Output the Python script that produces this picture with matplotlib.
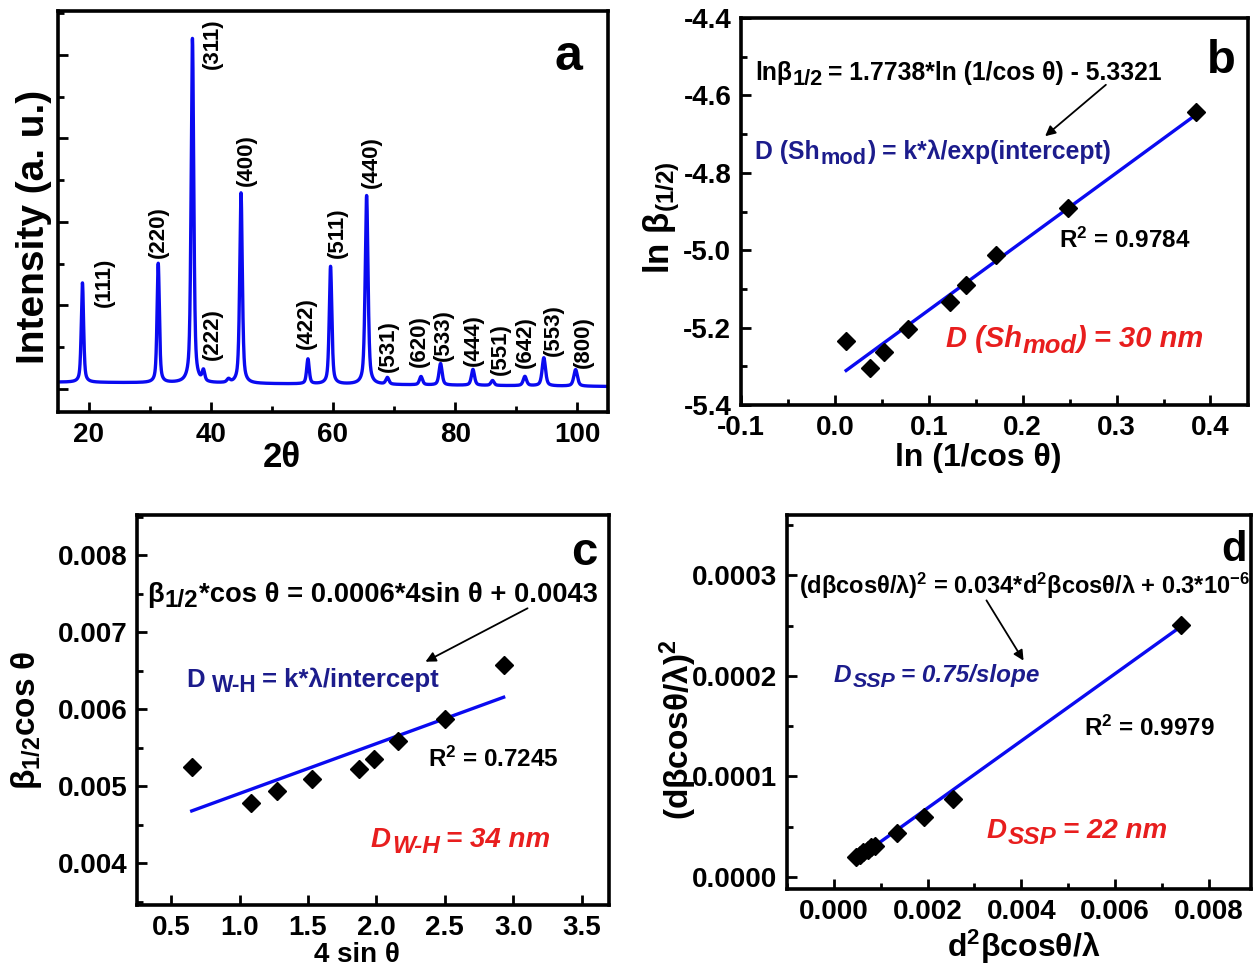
import numpy as np
import matplotlib
matplotlib.use('Agg')
import matplotlib.pyplot as plt
from matplotlib.patches import FancyArrowPatch
from matplotlib.ticker import MultipleLocator, FormatStrFormatter, NullFormatter, FixedLocator

FONT = 'Liberation Sans'
plt.rcParams.update({
    'font.family': [FONT, 'DejaVu Sans'],
    'font.weight': 'bold',
    'mathtext.fontset': 'custom',
    'mathtext.rm': FONT + ':bold',
    'mathtext.it': FONT + ':bold:italic',
    'mathtext.bf': FONT + ':bold',
    'mathtext.default': 'rm',
    'axes.unicode_minus': False,
})

# ---------------- data ----------------
# (a) XRD pattern: peak positions (2theta), heights above baseline, widths
peak_pos = [19.0, 31.4, 37.0, 38.8, 42.9, 44.95, 55.9, 59.6, 65.5, 68.9,
            74.4, 77.6, 82.9, 86.1, 91.4, 94.5, 99.7]
peak_height = [300, 360, 1040, 32, 10, 575, 75, 355, 570, 20,
               25, 65, 48, 15, 28, 85, 50]
peak_fwhm = [0.45, 0.45, 0.5, 0.5, 0.6, 0.5, 0.5, 0.5, 0.55, 0.6,
             0.6, 0.6, 0.6, 0.6, 0.65, 0.65, 0.7]
baseline_ends = [90, 77]
hkl_labels = ['(111)', '(220)', '(311)', '(222)', '(400)', '(422)', '(511)', '(440)',
              '(531)', '(620)', '(533)', '(444)', '(551)', '(642)', '(553)', '(800)']
hkl_x = [22.6, 31.5, 40.3, 40.3, 45.9, 55.6, 60.7, 66.3, 69.0, 74.1, 78.1, 83.0,
         87.4, 91.5, 96.0, 100.9]
hkl_y = [392, 542, 1110, 235, 760, 268, 542, 755, 198, 215, 232, 218, 190, 210, 248, 212]

# (b) modified Scherrer
b_x = [0.012, 0.037, 0.052, 0.078, 0.123, 0.140, 0.172, 0.248, 0.385]
b_y = [-5.235, -5.305, -5.262, -5.203, -5.133, -5.090, -5.012, -4.890, -4.643]
b_slope, b_icpt = 1.7738, -5.3321

# (c) Williamson-Hall
c_x = [0.65, 1.08, 1.27, 1.53, 1.87, 1.98, 2.16, 2.50, 2.93]
c_y = [0.00525, 0.00478, 0.00494, 0.00509, 0.00522, 0.00536, 0.00559, 0.00587, 0.00657]
c_slope, c_icpt = 0.000647, 0.00426

# (d) size-strain plot
d_x = [0.00048, 0.00055, 0.00062, 0.00072, 0.00080, 0.00088, 0.00135, 0.00193, 0.00254, 0.00740]
d_y = [0.0000195, 0.0000215, 0.0000245, 0.0000270, 0.0000295, 0.0000310, 0.0000440,
       0.0000600, 0.0000775, 0.0002510]
d_slope, d_icpt = 0.0334, 0.0000018
d_fit_range = [0.00046, 0.00733]

# ---------------- figure ----------------
W, H = 1256, 967
fig = plt.figure(figsize=(W / 100, H / 100), dpi=100)
renderer = fig.canvas.get_renderer()


def rect(l, r, t, b):
    return [l / W, 1 - b / H, (r - l) / W, (b - t) / H]


def fx(x):
    return x / W


def fy(y):
    return 1 - y / H


def rich(x, y, parts, size, color='black', style='normal'):
    """parts: list of (text, kind, gap_before_px); kind 'n' or 'sub'."""
    cx = x
    for txt, kind, gap in parts:
        cx += gap
        if kind == 'sub':
            fs = size * 0.88
            yy = y + size * 1.389 * 0.2
        else:
            fs = size
            yy = y
        t = fig.text(fx(cx), fy(yy), txt, fontsize=fs, color=color, style=style,
                     ha='left', va='baseline')
        cx += t.get_window_extent(renderer).width


def arrow(x0, y0, x1, y1):
    fig.add_artist(FancyArrowPatch((fx(x0), fy(y0)), (fx(x1), fy(y1)),
                                   transform=fig.transFigure, arrowstyle='-|>',
                                   mutation_scale=15, lw=1.3, color='black'))


NAVY = '#1c1c8c'
RED = '#e81e1e'
BLUE = '#0a0af0'
TICK = 20
MS = 9.5


def style(ax):
    for s in ax.spines.values():
        s.set_linewidth(2.6)
    ax.tick_params(which='both', direction='in', width=2, labelsize=TICK,
                   top=False, right=False, pad=7)
    ax.tick_params(which='major', length=7)
    ax.tick_params(which='minor', length=4)


# ---- (a) ----
axa = fig.add_axes(rect(58, 608, 11, 412))
tt = np.linspace(15, 105, 6000)
base = np.interp(tt, [15, 105], baseline_ends)
inten = base.copy()
for p, h, w in zip(peak_pos, peak_height, peak_fwhm):
    g = np.exp(-4 * np.log(2) * ((tt - p) / w) ** 2)
    lor = 1 / (1 + 4 * ((tt - p) / w) ** 2)
    inten += h * (0.55 * lor + 0.45 * g)
axa.plot(tt, inten, color=BLUE, lw=2.4)
axa.set_xlim(15, 105)
axa.set_ylim(0, 1210)
style(axa)
axa.xaxis.set_major_locator(MultipleLocator(20))
axa.xaxis.set_minor_locator(MultipleLocator(10))
axa.yaxis.set_major_locator(FixedLocator([70, 322, 574, 826, 1078]))
axa.yaxis.set_minor_locator(FixedLocator([196, 448, 700, 952, 1204]))
axa.yaxis.set_major_formatter(NullFormatter())
axa.xaxis.set_major_formatter(FormatStrFormatter('%d'))
for lab, x, y in zip(hkl_labels, hkl_x, hkl_y):
    axa.text(x, y, lab, rotation=90, ha='center', va='center', fontsize=16)
fig.text(fx(34), fy(227), 'Intensity (a. u.)', rotation=90, ha='center', va='center', fontsize=28)
fig.text(fx(282), fy(458), '2θ', ha='center', va='center', fontsize=25)
fig.text(fx(555), fy(70), 'a', ha='left', va='baseline', fontsize=36)

# ---- (b) ----
axb = fig.add_axes(rect(741, 1248, 18, 405))
bx = np.array([b_x[0], b_x[-1]])
axb.plot(bx, b_slope * bx + b_icpt, color=BLUE, lw=2.4, zorder=2)
axb.plot(b_x, b_y, 'D', color='black', ms=MS, zorder=3)
axb.set_xlim(-0.1, 0.44)
axb.set_ylim(-5.4, -4.4)
style(axb)
axb.xaxis.set_major_locator(MultipleLocator(0.1))
axb.xaxis.set_minor_locator(MultipleLocator(0.05))
axb.yaxis.set_major_locator(MultipleLocator(0.2))
axb.yaxis.set_minor_locator(MultipleLocator(0.1))
axb.xaxis.set_major_formatter(FormatStrFormatter('%.1f'))
axb.yaxis.set_major_formatter(FormatStrFormatter('%.1f'))
fig.text(fx(662), fy(218), 'ln β$_{(1/2)}$', rotation=90, ha='center', va='center', fontsize=25)
fig.text(fx(978), fy(458), 'ln (1/cos θ)', ha='center', va='center', fontsize=23)
fig.text(fx(1207), fy(73), 'b', ha='left', va='baseline', fontsize=34)
rich(755, 80, [('lnβ', 'n', 0), ('1/2', 'sub', 1), ('= 1.7738*ln (1/cos θ) - 5.3321', 'n', 5)], 17.8)
rich(755, 159, [('D (Sh', 'n', 0), ('mod', 'sub', 1), (') = k*λ/exp(intercept)', 'n', 0)], 17.8,
     color=NAVY)
fig.text(fx(1059), fy(248), 'R$^{2}$ = 0.9784', ha='left', va='baseline', fontsize=17.5)
rich(946, 347, [('D (Sh', 'n', 0), ('mod', 'sub', 1), (') = 30 nm', 'n', 0)], 21,
     color=RED, style='italic')
arrow(1108, 83, 1043, 138)

# ---- (c) ----
axc = fig.add_axes(rect(137, 609, 515, 905))
cx = np.array([c_x[0], c_x[-1]])
axc.plot(cx, c_slope * cx + c_icpt, color=BLUE, lw=2.4, zorder=2)
axc.plot(c_x, c_y, 'D', color='black', ms=MS, zorder=3)
axc.set_xlim(0.25, 3.7)
axc.set_ylim(0.00346, 0.00852)
style(axc)
axc.xaxis.set_major_locator(MultipleLocator(0.5))
axc.yaxis.set_major_locator(MultipleLocator(0.001))
axc.yaxis.set_minor_locator(MultipleLocator(0.0005))
axc.xaxis.set_major_formatter(FormatStrFormatter('%.1f'))
axc.yaxis.set_major_formatter(FormatStrFormatter('%.3f'))
fig.text(fx(27), fy(720), 'β$_{1/2}$cos θ', rotation=90, ha='center', va='center', fontsize=24)
fig.text(fx(357), fy(955), '4 sin θ', ha='center', va='center', fontsize=20)
fig.text(fx(571), fy(565), 'c', ha='left', va='baseline', fontsize=34)
rich(147, 602, [('β', 'n', 0), ('1/2', 'sub', 1), ('*cos θ = 0.0006*4sin θ + 0.0043', 'n', 1)], 19.7)
rich(186, 687, [('D', 'n', 0), ('W-H', 'sub', 7), ('= k*λ/intercept', 'n', 6)], 18.5, color=NAVY)
fig.text(fx(428), fy(767), 'R$^{2}$ = 0.7245', ha='left', va='baseline', fontsize=17.5)
rich(371, 847, [('D', 'n', 0), ('W-H', 'sub', 1), ('= 34 nm', 'n', 6)], 20,
     color=RED, style='italic')
arrow(530, 607, 423, 663)

# ---- (d) ----
axd = fig.add_axes(rect(787, 1251, 515, 889))
dx = np.array(d_fit_range)
axd.plot(dx, d_slope * dx + d_icpt, color=BLUE, lw=2.4, zorder=2)
axd.plot(d_x, d_y, 'D', color='black', ms=MS, zorder=3)
axd.set_xlim(-0.001, 0.0089)
axd.set_ylim(-0.0000119, 0.00036)
style(axd)
axd.xaxis.set_major_locator(MultipleLocator(0.002))
axd.xaxis.set_minor_locator(MultipleLocator(0.001))
axd.yaxis.set_major_locator(MultipleLocator(0.0001))
axd.yaxis.set_minor_locator(MultipleLocator(0.00005))
axd.xaxis.set_major_formatter(FormatStrFormatter('%.3f'))
axd.yaxis.set_major_formatter(FormatStrFormatter('%.4f'))
fig.text(fx(678), fy(730), '(dβcosθ/λ)$^{2}$', rotation=90, ha='center', va='center', fontsize=24)
fig.text(fx(1024), fy(947), 'd$^{2}$βcosθ/λ', ha='center', va='center', fontsize=23)
fig.text(fx(1221), fy(561), 'd', ha='left', va='baseline', fontsize=30)
fig.text(fx(799), fy(594), '(dβcosθ/λ)$^{2}$ = 0.034*d$^{2}$βcosθ/λ + 0.3*10$^{-6}$', ha='left',
         va='baseline', fontsize=17)
rich(834, 682, [('D', 'n', 0), ('SSP', 'sub', 1), ('= 0.75/slope', 'n', 6)], 17.5,
     color=NAVY, style='italic')
fig.text(fx(1084), fy(736), 'R$^{2}$ = 0.9979', ha='left', va='baseline', fontsize=17.5)
rich(987, 838, [('D', 'n', 0), ('SSP', 'sub', 1), ('= 22 nm', 'n', 6)], 20,
     color=RED, style='italic')
arrow(985, 598, 1025, 663)

fig.savefig('out.png', dpi=100)
